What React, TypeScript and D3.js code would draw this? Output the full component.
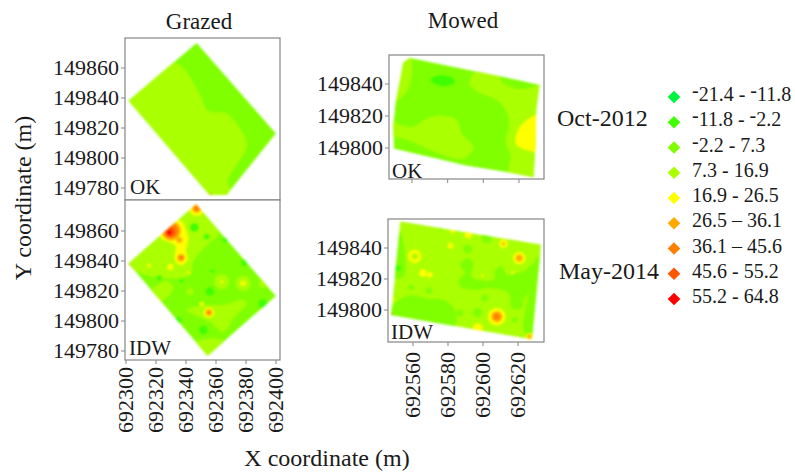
import React from "react";
import * as d3 from "d3";

type Pt = [number, number];
type Blob = [number, number, number, number];
type Region = { level: number; pts: Pt[] };

const Y0 = 149800;
const p = (x: number, y: number): Pt => [692300 + x, Y0 + y];
const q = (x: number, y: number): Pt => [692500 + x, Y0 + y];
const b1 = (x: number, y: number, r: number, l: number): Blob => [692300 + x, Y0 + y, r, l];
const b2 = (x: number, y: number, r: number, l: number): Blob => [692500 + x, Y0 + y, r, l];

const classColors = ["#00f53c", "#40ff00", "#80ff00", "#aaff00", "#ffff00", "#ffaa00", "#ff8000", "#ff5500", "#ff0000"];
const classLabels = ["-21.4 - -11.8", "-11.8 - -2.2", "-2.2 - 7.3", "7.3 - 16.9", "16.9 - 26.5", "26.5 – 36.1", "36.1 – 45.6", "45.6 - 55.2", "55.2 - 64.8"];

const grazedXTicks = [692300, 692320, 692340, 692360, 692380, 692400];
const grazedYTicks = [149780, 149800, 149820, 149840, 149860];
const mowedXTicks = [692560, 692580, 692600, 692620];
const mowedYTicks = [149800, 149820, 149840];

const okGrazedField: Pt[] = [p(47.1, 76.9), p(100, 16.4), p(67.1, -24.7), p(55.6, -24.7), p(1.6, 38.2)];
const okGrazedRegions: Region[] = [
  { level: 3, pts: [p(31.6, 63.1), p(37.1, 60.9), p(43.8, 52), p(50.4, 39.8), p(53.8, 32), p(59.3, 30.4), p(66, 30.2), p(72.7, 24.2), p(80.4, 10.9), p(79.3, 4.2), p(72.7, -5.8), p(67.6, -15.8), p(69.3, -20.2), p(67.1, -26), p(55.6, -26), p(0, 38.2), p(15, 52)] },
];
const okGrazedBlobs: Blob[] = [b1(56.4, -24.2, 0.5, 7)];

const idwGrazedField: Pt[] = [p(46.7, 77.8), p(100, 16.7), p(54.4, -23.3), p(1.6, 38.4)];
const idwGrazedRegions: Region[] = [
  { level: 3, pts: [p(46.7, 79), p(56, 68.4), p(61.6, 58.4), p(53.8, 50.7), p(44.9, 39.6), p(42.7, 30.7), p(31.6, 28.4), p(13.8, 30.7), p(0, 38.4), p(20, 60)] },
  { level: 3, pts: [p(18.2, 21.8), p(27.1, 26.7), p(31.6, 21.8), p(22.7, 12.9), p(17.1, 17.3)] },
  { level: 3, pts: [p(54.4, -24), p(46, -14.9), p(58.2, -11.6), p(64.9, -13.8)] },
  { level: 3, pts: [p(40.4, 7.3), p(51.6, 10.7), p(64.9, 10.7), p(78.2, 14), p(80.4, 11.8), p(71.6, 1.8), p(64.9, -7.1), p(56, -0.4), p(46, 4)] },
  { level: 4, pts: [p(22.7, 56.2), p(31.6, 65.1), p(36, 67.3), p(41.6, 55.1), p(40, 47.3), p(40.9, 40.7), p(36, 37.3), p(32.7, 40.7), p(32.7, 50.7), p(28.2, 52.9)] },
];
const idwGrazedBlobs: Blob[] = [
  b1(30, 60.2, 6.5, 5), b1(30, 60.2, 5, 6), b1(29.5, 59.5, 3.5, 7), b1(29, 59, 1.8, 8),
  b1(35.6, 54, 2, 5),
  b1(36.7, 42.2, 4, 4), b1(36.7, 42.2, 2.5, 5), b1(36.7, 42.2, 1.5, 6),
  b1(47.1, 75.1, 5, 4), b1(47.1, 75.1, 3, 5), b1(47.1, 75.1, 2, 6),
  b1(15.3, 36.9, 1.3, 4), b1(29.6, 36, 2, 4),
  b1(63.8, 26.2, 5, 3), b1(63.8, 26.2, 1, 4),
  b1(78.2, 25.1, 5, 3), b1(78.2, 25.1, 1.8, 4),
  b1(91.6, 25.1, 3, 3),
  b1(56, 19.6, 3, 1), b1(45.6, 62.4, 3, 1), b1(91.1, 11.6, 3, 1),
  b1(55.3, 5.6, 3.4, 4), b1(55.3, 5.6, 2.2, 5), b1(55.3, 5.6, 1.2, 6),
  b1(50.4, 11.3, 1.3, 4), b1(42.7, 19.6, 2.2, 3),
  b1(34.9, 0.7, 2.2, 1), b1(51.6, -6, 3, 1), b1(22.2, 28.9, 1.8, 1),
  b1(53.8, 56.2, 2, 1), b1(66, 54, 1.8, 1), b1(78.9, 38.9, 2.2, 1),
  b1(57.6, 33.3, 1.3, 1), b1(37.1, 26.9, 1.5, 1),
  b1(41.6, 32.4, 1, 4), b1(2.2, 37.3, 0.7, 8), b1(21.6, 14.7, 1, 4),
];

const okMowedField: Pt[] = [q(58.7, 56.4), q(131.6, 39.6), q(129.7, 23.8), q(129.3, 1.7), q(128.2, -18.3), q(115.8, -15.6), q(89.7, -10.9), q(73.9, -6.7), q(49.8, -0.4), q(49.4, 13.3), q(50.7, 28), q(53.5, 43.8), q(55, 53.3)];
const okMowedRegions: Region[] = [
  { level: 3, pts: [q(58.7, 57), q(60, 50.1), q(58.1, 37.5), q(53.5, 31.2), q(49, 28), q(52, 44), q(54, 54)] },
  { level: 3, pts: [q(47, 18.5), q(53.5, 14.3), q(60.9, 13.3), q(68.4, 18.5), q(77.7, 20.2), q(85.1, 17.5), q(87.9, 9.1), q(94.4, 0.6), q(88.8, -6.7), q(73, -2.5), q(64.6, 1.7), q(55.4, 5.9), q(47, 8)] },
  { level: 3, pts: [q(96.2, 48), q(109.3, 45.5), q(111.1, 40.6), q(118.6, 37), q(126, 37.5), q(134, 40), q(134, 22.7), q(133, 1.7), q(132, -20), q(114.8, -18), q(115.2, -4.6), q(112.6, 3.8), q(114.5, 14.3), q(113, 22.7), q(107.4, 30.1), q(96.2, 35.4), q(92.2, 40.6)] },
  { level: 1, pts: [q(70.2, 42.7), q(74.9, 45.5), q(82.3, 44.2), q(84.2, 41.3), q(78.6, 38.5), q(73, 40)] },
  { level: 2, pts: [q(109.3, 45.5), q(116.7, 43.8), q(125, 40.6), q(121.3, 37), q(113.9, 39.2), q(110.2, 41.7)] },
  { level: 4, pts: [q(132, 20.6), q(132, -1.7), q(122.3, -0.4), q(118.2, 2.7), q(119.5, 11.2), q(123.2, 16.4)] },
];
const okMowedBlobs: Blob[] = [b2(52.9, 44.4, 1, 4)];

const idwMowedField: Pt[] = [q(52.7, 57.3), q(133.2, 42.2), q(128, -19), q(47.5, -3.2)];
const idwMowedRegions: Region[] = [
  { level: 2, pts: [q(46, -5), q(50, 4.8), q(58.1, 9.5), q(67.7, 7.6), q(78.2, 6.1), q(83.9, 0), q(83.9, -10)] },
  { level: 2, pts: [q(86.8, 20.6), q(89.7, 23.8), q(86.8, 29.2), q(90.7, 33.5), q(94.5, 30.3), q(93.5, 21.6), q(106, 19.5), q(106.9, 26), q(110.8, 28.1), q(113.6, 22.7), q(119.4, 23.8), q(125.1, 24.9), q(127, 13), q(123.2, 6.5), q(122.3, 1.1), q(116.5, 1.1), q(114.6, 10.8), q(104.1, 14.1), q(96.4, 13), q(86.8, 15.2)] },
  { level: 2, pts: [q(135, 42), q(130.9, 32.4), q(124.2, 24.9), q(126.1, 13), q(123.2, -12.9), q(129, -21)] },
  { level: 2, pts: [q(52.7, 50.8), q(55.2, 38.9), q(54.6, 21.6), q(49, 20.6), q(50.5, 36.8)] },
];
const idwMowedBlobs: Blob[] = [
  b2(61, 34.6, 3.8, 4), b2(61, 34.6, 1.9, 3), b2(61, 34.6, 0.5, 5),
  b2(65.7, 23.8, 2.2, 4), b2(69.6, 22.7, 1.6, 4),
  b2(81.5, 41.5, 1.6, 4), b2(82.6, 50.8, 1.2, 4), b2(91.6, 48.6, 2, 4),
  b2(111.7, 42.8, 2.3, 4), b2(111.7, 42.8, 1, 5),
  b2(120.7, 33.5, 3.5, 4), b2(120.7, 33.5, 2, 5),
  b2(107.9, -4.3, 5, 4), b2(107.9, -4.3, 3.2, 5), b2(107.9, -4.3, 1.8, 6),
  b2(97, -11.8, 2.8, 4), b2(126.5, -17.2, 2, 4), b2(126.5, -17.2, 1.2, 5),
  b2(99.8, 22.3, 0.8, 4), b2(117.1, 24.2, 0.8, 4), b2(48.5, 7, 0.8, 4), b2(48.1, -2.5, 0.4, 8),
  b2(91.2, 39.4, 2.6, 2), b2(59, 14.7, 1.6, 2), b2(69.2, 12.4, 2, 2), b2(101, 7.8, 2, 2),
  b2(96.8, -1.7, 2.8, 2), b2(86.8, -1.7, 2, 2), b2(118, -6.4, 1.6, 2), b2(75.9, 52.3, 0.8, 2),
  b2(102, 46.5, 3, 2), b2(51.4, 27, 1.8, 1), b2(130.9, 32.4, 1.2, 2),
];

const serif = "'Liberation Serif', 'Times New Roman', serif";
const axisGrey = "#858585";
const ink = "#1a1a1a";

type PanelProps = {
  id: string; label: string;
  box: { x0: number; x1: number; y0: number; y1: number };
  xDomain: Pt; xRange: Pt; yDomain: Pt; yRange: Pt;
  xTicks: number[]; yTicks: number[];
  xLabels?: boolean; showXTicks?: boolean; xLabelGap?: number;
  field: Pt[]; base: number; regions: Region[]; blobs: Blob[];
  labelX: number; labelY: number;
};

function Panel(props: PanelProps) {
  const { id, label, box, xDomain, xRange, yDomain, yRange, xTicks, yTicks, xLabels, showXTicks, xLabelGap = 7, field, base, regions, blobs, labelX, labelY } = props;
  const x = d3.scaleLinear().domain(xDomain).range(xRange);
  const y = d3.scaleLinear().domain(yDomain).range(yRange);
  const k = Math.abs(x(xDomain[0] + 1) - x(xDomain[0]));
  const straight = d3.line<Pt>().x(d => x(d[0])).y(d => y(d[1])).curve(d3.curveLinearClosed);
  const smooth = d3.line<Pt>().x(d => x(d[0])).y(d => y(d[1])).curve(d3.curveCatmullRomClosed.alpha(0.5));
  return (
    <g>
      <clipPath id={`clip-${id}`}><path d={straight(field) as string} /></clipPath>
      <rect x={box.x0} y={box.y0} width={box.x1 - box.x0} height={box.y1 - box.y0} fill="#fff" stroke={axisGrey} strokeWidth={1.2} />
      <g filter="url(#soft)">
        <g clipPath={`url(#clip-${id})`}>
          <path d={straight(field) as string} fill={classColors[base]} />
          {regions.map((r, i) => <path key={i} d={smooth(r.pts) as string} fill={classColors[r.level]} />)}
          {blobs.map((c, i) => <circle key={i} cx={x(c[0])} cy={y(c[1])} r={c[2] * k} fill={classColors[c[3]]} />)}
        </g>
      </g>
      {yTicks.map(t => (
        <g key={t}>
          <line x1={box.x0 - 4} x2={box.x0} y1={y(t)} y2={y(t)} stroke={axisGrey} strokeWidth={1} />
          <text x={box.x0 - 6} y={y(t) + 7} textAnchor="end" fontSize={22} fontFamily={serif} fill={ink}>{t}</text>
        </g>
      ))}
      {showXTicks && xTicks.map(t => (
        <line key={t} x1={x(t)} x2={x(t)} y1={box.y1} y2={box.y1 + 4} stroke={axisGrey} strokeWidth={1} />
      ))}
      {xLabels && xTicks.map(t => (
        <text key={t} transform={`translate(${x(t) + 7},${box.y1 + xLabelGap}) rotate(-90)`} textAnchor="end" fontSize={22} fontFamily={serif} fill={ink}>{t}</text>
      ))}
      <text x={labelX} y={labelY} fontSize={21} fontFamily={serif} fill={ink}>{label}</text>
    </g>
  );
}

function LegendText({ text, x, y }: { text: string; x: number; y: number }) {
  const parts = text.split(/(?<=^|\s)-(?=\d)/);
  return (
    <text x={x} y={y} fontSize={20} fontFamily={serif} fill={ink}>
      {parts.map((s, i) => (
        <React.Fragment key={i}>
          {i > 0 && <tspan dy={-4}>-</tspan>}
          <tspan dy={i > 0 ? 4 : 0}>{s}</tspan>
        </React.Fragment>
      ))}
    </text>
  );
}

export default function App() {
  const legendY = d3.scaleLinear().domain([0, classLabels.length - 1]).range([97, 299]);
  return (
    <svg width={795} height={473} style={{ position: "absolute", left: 0, top: 0 }}>
      <defs>
        <filter id="soft" x="-5%" y="-5%" width="110%" height="110%"><feGaussianBlur stdDeviation={0.8} /></filter>
      </defs>
      <rect width={795} height={473} fill="#fff" />
      <Panel id="a" label="OK" box={{ x0: 125, x1: 280, y0: 38, y1: 200 }}
        xDomain={[692300, 692400]} xRange={[126, 276]} yDomain={[149780, 149860]} yRange={[188, 68]}
        xTicks={grazedXTicks} yTicks={grazedYTicks} field={okGrazedField} base={2}
        regions={okGrazedRegions} blobs={okGrazedBlobs} labelX={130} labelY={194} />
      <Panel id="b" label="IDW" box={{ x0: 125, x1: 280, y0: 200, y1: 360 }}
        xDomain={[692300, 692400]} xRange={[126, 276]} yDomain={[149780, 149860]} yRange={[351, 231]}
        xTicks={grazedXTicks} yTicks={grazedYTicks} xLabels showXTicks field={idwGrazedField} base={2}
        regions={idwGrazedRegions} blobs={idwGrazedBlobs} labelX={129} labelY={355} />
      <Panel id="c" label="OK" box={{ x0: 389, x1: 544, y0: 55, y1: 179 }}
        xDomain={[692560, 692620]} xRange={[412, 519]} yDomain={[149800, 149840]} yRange={[148, 84]}
        xTicks={mowedXTicks} yTicks={mowedYTicks} showXTicks field={okMowedField} base={2}
        regions={okMowedRegions} blobs={okMowedBlobs} labelX={392} labelY={178} />
      <Panel id="d" label="IDW" box={{ x0: 388, x1: 544, y0: 219, y1: 342 }}
        xDomain={[692560, 692620]} xRange={[413, 518]} yDomain={[149800, 149840]} yRange={[310, 248]}
        xTicks={mowedXTicks} yTicks={mowedYTicks} xLabels showXTicks xLabelGap={10} field={idwMowedField} base={3}
        regions={idwMowedRegions} blobs={idwMowedBlobs} labelX={391} labelY={339} />

      <text x={199} y={29} textAnchor="middle" fontSize={23} fontFamily={serif} fill={ink}>Grazed</text>
      <text x={463} y={28} textAnchor="middle" fontSize={23} fontFamily={serif} fill={ink}>Mowed</text>
      <text x={557} y={126} fontSize={24} fontFamily={serif} fill={ink}>Oct-2012</text>
      <text x={559} y={279} fontSize={24} fontFamily={serif} fill={ink}>May-2014</text>
      <text transform="translate(31,198) rotate(-90)" textAnchor="middle" fontSize={24} fontFamily={serif} fill={ink}>Y coordinate (m)</text>
      <text x={327} y={466} textAnchor="middle" fontSize={24} fontFamily={serif} fill={ink}>X coordinate (m)</text>

      {classLabels.map((t, i) => (
        <g key={t}>
          <path d={d3.symbol(d3.symbolSquare, 80)() as string}
            transform={`translate(674,${legendY(i)}) rotate(45)`} fill={classColors[i]} />
          <LegendText text={t} x={692} y={legendY(i) + 4} />
        </g>
      ))}
    </svg>
  );
}
